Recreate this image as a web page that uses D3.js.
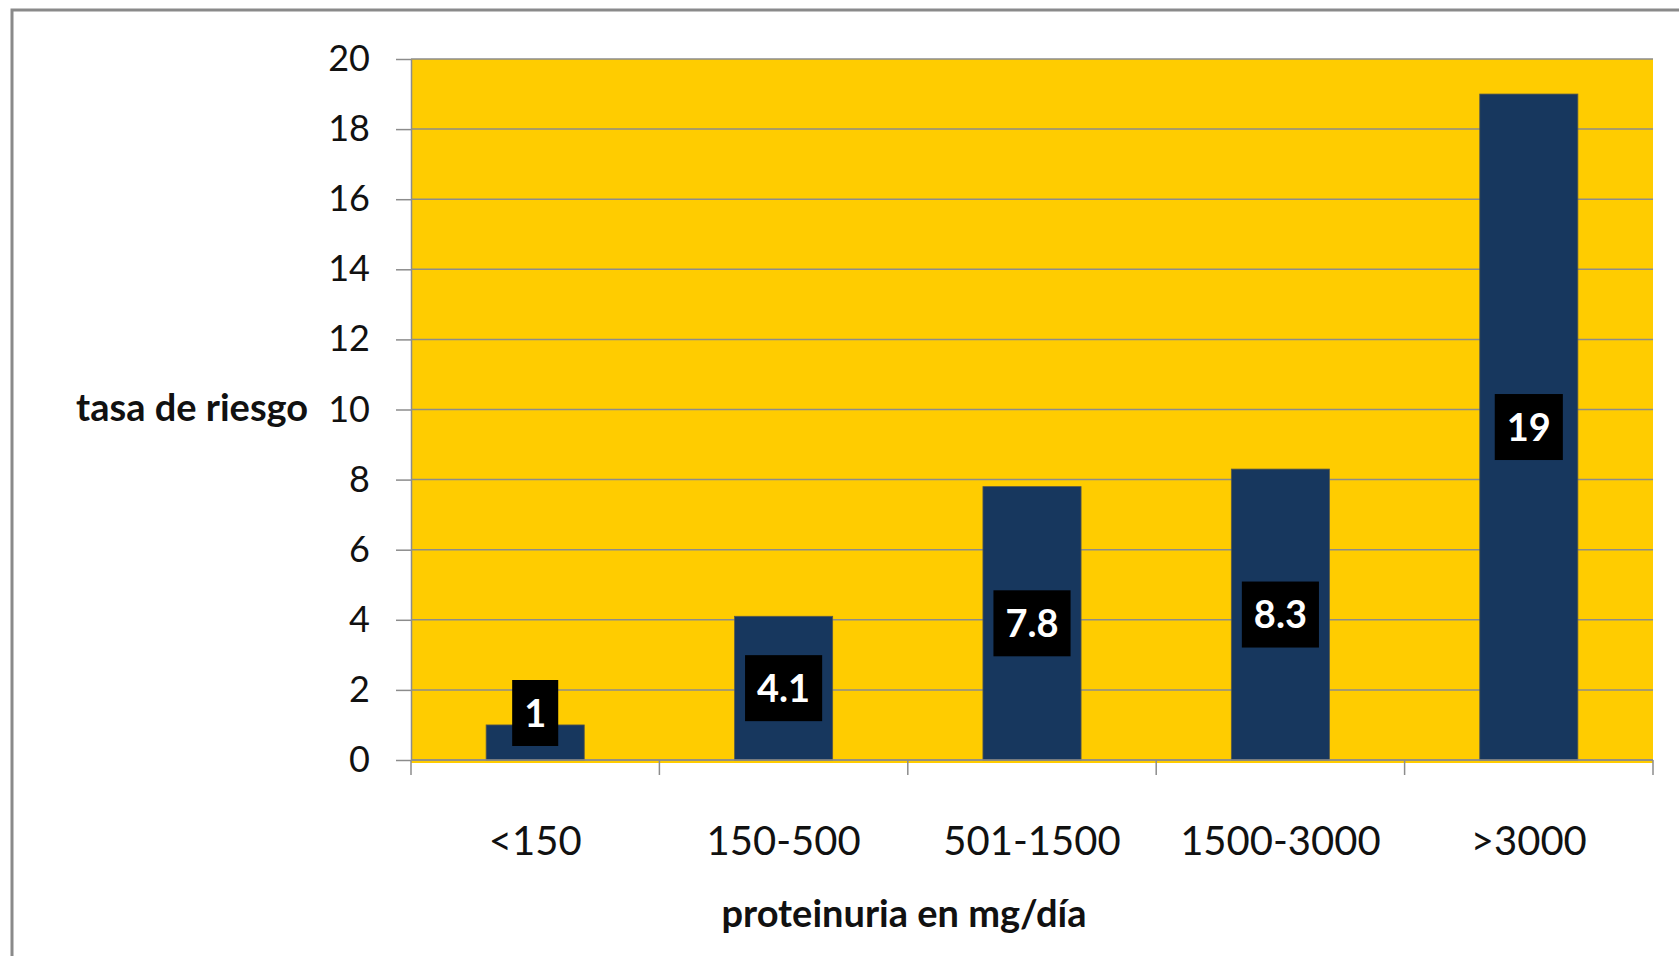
<!DOCTYPE html>
<html>
<head>
<meta charset="utf-8">
<script src="https://cdn.jsdelivr.net/npm/d3@7"></script>
<style>
  html, body { margin: 0; padding: 0; background: #ffffff; overflow: hidden; }
  svg { display: block; }
  text { font-family: Lato, "Open Sans", sans-serif; }
</style>
</head>
<body>
<svg id="chart" width="1679" height="956"></svg>
<script>
// Risk rate by daily proteinuria range
const categories = ["<150", "150-500", "501-1500", "1500-3000", ">3000"];
const values = [1, 4.1, 7.8, 8.3, 19];
const yTicks = [0, 2, 4, 6, 8, 10, 12, 14, 16, 18, 20];
const yTitle = "tasa de riesgo";
const xTitle = "proteinuria en mg/día";

const W = 1679, H = 956;
const plot = { left: 411, right: 1653, top: 59, bottom: 760 };

const svg = d3.select("#chart");

// outer chart frame
svg.append("rect")
  .attr("x", 12).attr("y", 10)
  .attr("width", W + 40).attr("height", H + 40)
  .attr("fill", "#ffffff")
  .attr("stroke", "#8a8a8a")
  .attr("stroke-width", 3);

const x = d3.scaleBand()
  .domain(categories)
  .range([plot.left, plot.right])
  .paddingInner(0.605)
  .paddingOuter(0.3025);

const y = d3.scaleLinear()
  .domain([0, 20])
  .range([plot.bottom, plot.top]);

// plot background
svg.append("rect")
  .attr("x", plot.left).attr("y", plot.top)
  .attr("width", plot.right - plot.left)
  .attr("height", plot.bottom - plot.top + 3)
  .attr("fill", "#ffcc00");

// horizontal gridlines
svg.append("g")
  .selectAll("line")
  .data(yTicks)
  .join("line")
  .attr("x1", plot.left).attr("x2", plot.right)
  .attr("y1", d => y(d)).attr("y2", d => y(d))
  .attr("stroke", "#8c8c8c")
  .attr("stroke-width", 1.5);

// y axis
const yAxis = svg.append("g")
  .attr("transform", `translate(${plot.left},0)`)
  .call(d3.axisLeft(y).tickValues(yTicks).tickSize(15).tickPadding(26).tickSizeOuter(0));
yAxis.select(".domain").attr("stroke", "#8c8c8c").attr("stroke-width", 1.5);
yAxis.selectAll(".tick line").attr("stroke", "#8c8c8c").attr("stroke-width", 1.5);
yAxis.selectAll(".tick text")
  .attr("font-family", "Lato, sans-serif")
  .attr("font-size", 36)
  .attr("fill", "#111");

// bars
svg.append("g")
  .selectAll("rect")
  .data(values)
  .join("rect")
  .attr("x", (d, i) => x(categories[i]))
  .attr("y", d => y(d))
  .attr("width", x.bandwidth())
  .attr("height", d => y(0) - y(d))
  .attr("fill", "#17375e")
  .attr("stroke", "#5a5a4a")
  .attr("stroke-width", 0.8);

// x axis with boundary ticks
const step = x.step();
const xAxisG = svg.append("g");
xAxisG.append("line")
  .attr("x1", plot.left).attr("x2", plot.right)
  .attr("y1", y(0)).attr("y2", y(0))
  .attr("stroke", "#8c8c8c").attr("stroke-width", 1.5);
xAxisG.selectAll("line.tick")
  .data(d3.range(categories.length + 1))
  .join("line")
  .attr("class", "tick")
  .attr("x1", i => plot.left + i * step)
  .attr("x2", i => plot.left + i * step)
  .attr("y1", y(0)).attr("y2", y(0) + 15)
  .attr("stroke", "#8c8c8c").attr("stroke-width", 1.5);
xAxisG.selectAll("text")
  .data(categories)
  .join("text")
  .attr("x", d => x(d) + x.bandwidth() / 2)
  .attr("y", 855)
  .attr("text-anchor", "middle")
  .attr("font-size", 40)
  .attr("fill", "#111")
  .text(d => d);

// value labels: black boxes with white bold text
const labelH = 66;
const labels = svg.append("g")
  .selectAll("g")
  .data(values)
  .join("g")
  .attr("transform", (d, i) => {
    const cx = x(categories[i]) + x.bandwidth() / 2;
    const mid = (y(d) + y(0)) / 2;
    const cy = Math.min(mid, y(0) - 14 - labelH / 2);
    return `translate(${cx},${cy})`;
  });
labels.append("text")
  .attr("text-anchor", "middle")
  .attr("dy", "0.36em")
  .attr("font-size", 38)
  .attr("font-weight", "bold")
  .attr("fill", "#ffffff")
  .text(d => d);
labels.each(function () {
  const g = d3.select(this);
  const t = g.select("text");
  const w = t.node().getComputedTextLength() + 24;
  g.insert("rect", "text")
    .attr("x", -w / 2).attr("y", -labelH / 2)
    .attr("width", w).attr("height", labelH)
    .attr("fill", "#000000");
});

// axis titles
svg.append("text")
  .attr("x", 308)
  .attr("y", y(10))
  .attr("dy", "0.3em")
  .attr("text-anchor", "end")
  .attr("font-size", 38)
  .attr("font-weight", "bold")
  .attr("fill", "#111")
  .text(yTitle);

svg.append("text")
  .attr("x", 904)
  .attr("y", 927)
  .attr("text-anchor", "middle")
  .attr("font-size", 38)
  .attr("font-weight", "bold")
  .attr("fill", "#111")
  .text(xTitle);
</script>
</body>
</html>
